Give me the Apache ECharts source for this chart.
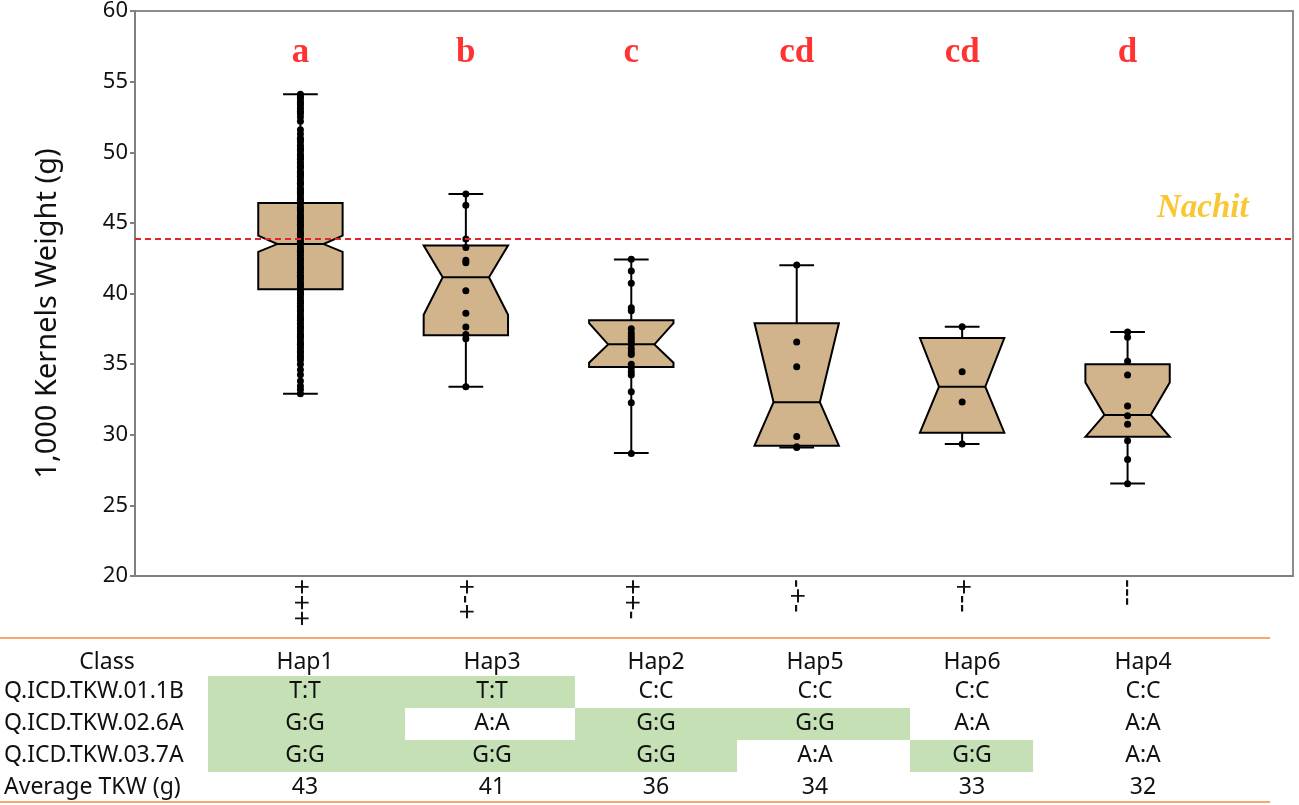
<!DOCTYPE html>
<html><head><meta charset="utf-8">
<script src="https://cdn.jsdelivr.net/npm/echarts@6/dist/echarts.min.js"></script>
<style>html,body{margin:0;padding:0;background:#fff;}#c{width:1299px;height:805px;}</style>
</head><body><div id="c"></div>
<script>
// ---------- data ----------
const haplotypes = ['Hap1', 'Hap3', 'Hap2', 'Hap5', 'Hap6', 'Hap4'];
const boxMin    = [32.9, 33.4, 28.7, 29.1, 29.35, 26.55];
const boxQ1     = [40.3, 37.05, 34.8, 29.23, 30.15, 29.85];
const boxMedian = [43.5, 41.15, 36.4, 32.3, 33.4, 31.4];
const boxQ3     = [46.4, 43.4, 38.1, 37.9, 36.85, 35.0];
const boxMax    = [54.1, 47.05, 42.4, 42.0, 37.65, 37.27];
const notchLow  = [42.95, 38.5, 35.1, 29.0, 30.0, 29.0];
const notchHigh = [44.1, 43.6, 37.9, 38.5, 37.0, 33.7];

const dotsHap1 = [54.1, 53.95, 53.8, 53.6, 53.45, 53.3, 53.1, 52.9, 52.2, 51.6, 51.3, 51.0, 50.75, 50.5, 50.3, 50.1,
  49.85, 49.7, 49.5, 49.3, 49.1, 48.9, 48.65, 48.5, 48.3, 48.1, 47.9, 47.7, 47.45, 47.3, 47.1, 46.9, 46.7, 46.5,
  46.35, 46.1, 45.9, 45.7, 45.5, 45.3, 45.1, 44.9, 44.7, 44.5, 44.3, 44.1, 43.9, 43.7, 43.5, 43.3, 43.1, 42.9,
  42.7, 42.5, 42.3, 42.1, 41.9, 41.7, 41.5, 41.3, 41.1, 40.9, 40.7, 40.5, 40.3, 40.1, 39.9, 39.7, 39.5, 39.3,
  39.1, 38.9, 38.7, 38.5, 38.3, 38.1, 37.9, 37.7, 37.5, 37.3, 37.1, 36.9, 36.7, 36.5, 36.3, 36.1, 35.9, 35.6,
  35.3, 35.0, 34.6, 34.25, 33.8, 33.45, 33.2, 32.9,
  52.75, 52.5, 50.9, 50.2, 49.6, 49.0, 48.4, 47.8, 47.2, 46.6, 46.0, 45.4, 44.8, 44.2, 43.6, 43.0, 42.4, 41.8,
  41.2, 40.6, 40.0, 39.4, 38.8, 38.2, 37.6, 37.0, 36.4, 35.8, 35.45];
const dotsHap3 = [47.05, 46.25, 43.85, 43.26, 42.35, 42.18, 40.2, 38.6, 37.63, 37.09, 36.8, 33.4];
const dotsHap2 = [42.42, 41.6, 40.73, 39.0, 38.78, 37.5, 37.2, 37.0, 36.8, 36.6, 36.4, 36.1, 35.85, 35.68, 35.0,
  34.74, 34.46, 34.23, 33.05, 32.27, 28.68];
const dotsHap5 = [42.02, 36.57, 34.81, 29.88, 29.15, 29.1];
const dotsHap6 = [37.65, 34.46, 32.32, 29.34];
const dotsHap4 = [37.27, 36.9, 35.2, 34.23, 32.04, 31.34, 30.75, 29.58, 28.24, 26.53];
const dotsByHap = [dotsHap1, dotsHap3, dotsHap2, dotsHap5, dotsHap6, dotsHap4];

const groupLetters = ['a', 'b', 'c', 'cd', 'cd', 'd'];
const letterLevel = 57.0;
const alleleSigns = ['+++', '+-+', '++-', '-+-', '+--', '---'];
const nachitValue = 43.9;
const nachitLabel = 'Nachit';
const nachitLabelPos = [6.455, 46.0];

const yTicks = { min: 20, max: 60, step: 5 };

const markerNames = ['Q.ICD.TKW.01.1B', 'Q.ICD.TKW.02.6A', 'Q.ICD.TKW.03.7A'];
const genotypes = [
  ['T:T', 'T:T', 'C:C', 'C:C', 'C:C', 'C:C'],
  ['G:G', 'A:A', 'G:G', 'G:G', 'A:A', 'A:A'],
  ['G:G', 'G:G', 'G:G', 'A:A', 'G:G', 'A:A']
];
const favorable = [
  [1, 1, 0, 0, 0, 0],
  [1, 0, 1, 1, 0, 0],
  [1, 1, 1, 0, 1, 0]
];
const avgTKW = [43, 41, 36, 34, 33, 32];

// ---------- layout / style ----------
const BOX_W = 0.51, WAIST_W = 0.28, CAP_W = 0.21;
const TAN = '#d2b48c', GREEN = '#c5e0b4', ORANGE = '#f4a872';
const TXT = '#111';
const tblFont = '23px "Noto Sans"';
const colEdges = [208, 405, 575, 737, 910, 1033, 1250];
const colCenters = [305, 492, 656, 815, 972, 1143];
const rowCenters = [662, 691, 723, 755, 787];
const rowTops = [676, 708, 740];
const ROW_H = 32;

const boxData = haplotypes.map((h, i) => [i + 1, boxMin[i], boxQ1[i], boxMedian[i], boxQ3[i], boxMax[i], notchLow[i], notchHigh[i]]);
const dotData = [];
dotsByHap.forEach((arr, i) => arr.forEach(v => dotData.push([i + 1, v])));
const letterData = groupLetters.map((l, i) => [i + 1, letterLevel, l]);

// table graphics
const graphics = [];
favorable.forEach((row, r) => row.forEach((f, c) => {
  if (f) graphics.push({ type: 'rect', shape: { x: colEdges[c], y: rowTops[r], width: colEdges[c + 1] - colEdges[c], height: ROW_H }, style: { fill: GREEN } });
}));
function txt(t, x, y, align) {
  return { type: 'text', style: { text: String(t), x: x, y: y, font: tblFont, fill: TXT, align: align || 'center', verticalAlign: 'middle', textAlign: align || 'center', textVerticalAlign: 'middle' } };
}
graphics.push(txt('Class', 107, rowCenters[0]));
haplotypes.forEach((h, c) => graphics.push(txt(h, colCenters[c], rowCenters[0])));
markerNames.forEach((m, r) => {
  graphics.push(txt(m, 4, rowCenters[r + 1], 'left'));
  genotypes[r].forEach((g, c) => graphics.push(txt(g, colCenters[c], rowCenters[r + 1])));
});
graphics.push(txt('Average TKW (g)', 4, rowCenters[4], 'left'));
avgTKW.forEach((a, c) => graphics.push(txt(a, colCenters[c], rowCenters[4])));
graphics.push({ type: 'line', shape: { x1: 0, y1: 638, x2: 1270, y2: 638 }, style: { stroke: ORANGE, lineWidth: 2 } });
graphics.push({ type: 'line', shape: { x1: 0, y1: 802, x2: 1270, y2: 802 }, style: { stroke: ORANGE, lineWidth: 2 } });

const chart = echarts.init(document.getElementById('c'), null, { renderer: 'canvas' });
chart.setOption({
  animation: false,
  backgroundColor: '#fff',
  grid: { left: 135, right: 6, top: 8, bottom: 229, show: true, borderColor: '#8c8c8c', borderWidth: 2 },
  xAxis: {
    type: 'value', min: 0, max: 7, interval: 1,
    axisLine: { show: true, lineStyle: { color: '#808080', width: 2 } },
    axisTick: { show: false }, splitLine: { show: false },
    axisLabel: {
      rotate: -90, margin: 3, fontSize: 27, fontFamily: 'Liberation Sans', color: TXT,
      formatter: v => (v >= 1 && v <= alleleSigns.length) ? alleleSigns[v - 1] : ''
    }
  },
  yAxis: {
    type: 'value', min: yTicks.min, max: yTicks.max, interval: yTicks.step,
    name: '1,000 Kernels Weight (g)', nameLocation: 'middle', nameGap: 73,
    nameTextStyle: { fontSize: 29, color: TXT, fontFamily: 'Noto Sans', padding: [0, 40, 0, 0] },
    axisLine: { show: true, lineStyle: { color: '#808080', width: 2 } },
    axisTick: { show: true, length: 5, lineStyle: { color: '#808080', width: 2 } },
    axisLabel: { fontSize: 22, color: TXT, margin: 7, fontFamily: 'Noto Sans' },
    splitLine: { show: false }
  },
  graphic: graphics,
  series: [
    {
      type: 'custom', z: 2,
      encode: { x: 0, y: [1, 2, 3, 4, 5] },
      data: boxData,
      renderItem: function (params, api) {
        const x = api.value(0);
        const mn = api.value(1), q1 = api.value(2), md = api.value(3), q3 = api.value(4), mx = api.value(5);
        const nlo = Math.max(api.value(6), q1), nhi = Math.min(api.value(7), q3);
        const unit = api.size([1, 0])[0];
        const cx = api.coord([x, md])[0];
        const y = v => api.coord([x, v])[1];
        const hw = unit * BOX_W / 2, ww = unit * WAIST_W / 2, cw = unit * CAP_W / 2;
        const ls = { stroke: '#000', lineWidth: 2, fill: null };
        return {
          type: 'group', children: [
            { type: 'line', shape: { x1: cx, y1: y(mn), x2: cx, y2: y(q1) }, style: ls },
            { type: 'line', shape: { x1: cx, y1: y(q3), x2: cx, y2: y(mx) }, style: ls },
            { type: 'line', shape: { x1: cx - cw, y1: y(mn), x2: cx + cw, y2: y(mn) }, style: ls },
            { type: 'line', shape: { x1: cx - cw, y1: y(mx), x2: cx + cw, y2: y(mx) }, style: ls },
            {
              type: 'polygon', shape: {
                points: [[cx - hw, y(q1)], [cx - hw, y(nlo)], [cx - ww, y(md)], [cx - hw, y(nhi)], [cx - hw, y(q3)],
                [cx + hw, y(q3)], [cx + hw, y(nhi)], [cx + ww, y(md)], [cx + hw, y(nlo)], [cx + hw, y(q1)]]
              }, style: { fill: TAN, stroke: '#000', lineWidth: 2, lineJoin: 'miter' }
            },
            { type: 'line', shape: { x1: cx - ww, y1: y(md), x2: cx + ww, y2: y(md) }, style: ls }
          ]
        };
      }
    },
    {
      type: 'scatter', z: 3, symbolSize: 7, itemStyle: { color: '#000', opacity: 1 },
      data: dotData,
      markLine: {
        silent: true, symbol: ['none', 'none'], animation: false,
        lineStyle: { color: '#e0262b', type: [6, 4], width: 2 },
        label: { show: false },
        data: [{ yAxis: nachitValue }]
      }
    },
    {
      type: 'scatter', z: 4, symbolSize: 1, itemStyle: { color: 'rgba(0,0,0,0)' },
      data: letterData,
      label: {
        show: true, position: 'inside', formatter: p => p.data[2],
        fontFamily: 'Liberation Serif', fontWeight: 'bold', fontSize: 35, color: '#ff0000'
      }
    },
    {
      type: 'scatter', z: 4, symbolSize: 1, itemStyle: { color: 'rgba(0,0,0,0)' },
      data: [[nachitLabelPos[0], nachitLabelPos[1], nachitLabel]],
      label: {
        show: true, position: 'inside', formatter: p => p.data[2],
        fontFamily: 'Liberation Serif', fontWeight: 'bold', fontStyle: 'italic', fontSize: 33, color: '#f7b900'
      }
    }
  ]
});
</script></body></html>
